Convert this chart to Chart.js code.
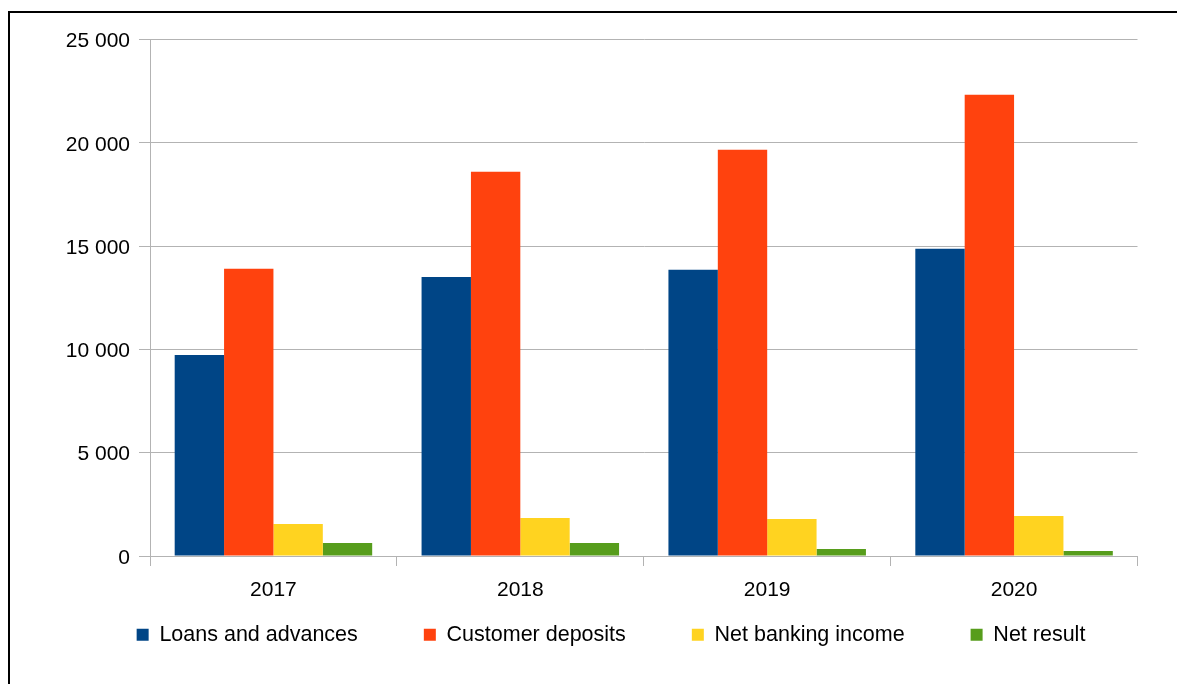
<!DOCTYPE html>
<html>
<head>
<meta charset="utf-8">
<script src="https://cdn.jsdelivr.net/npm/chart.js@4/dist/chart.umd.min.js"></script>
<style>
  html, body { margin: 0; padding: 0; background: #fff; overflow: hidden; }
  #frame {
    position: absolute; left: 8px; top: 11px; width: 2000px; height: 2000px;
    border-left: 2px solid #000; border-top: 2px solid #000;
  }
  #wrap { position: absolute; left: 0; top: 0; width: 1177px; height: 684px; }
</style>
</head>
<body>
<div id="frame"></div>
<div id="wrap"><canvas id="c" width="1177" height="684"></canvas></div>
<script>
// Yearly figures
const years = ['2017', '2018', '2019', '2020'];
const loansAndAdvances = [9730, 13510, 13850, 14870];
const customerDeposits = [13900, 18600, 19660, 22320];
const netBankingIncome = [1550, 1840, 1790, 1940];
const netResult = [630, 630, 340, 240];
const yTickValues = [0, 5000, 10000, 15000, 20000, 25000];

const GRID = '#b3b3b3';
const FONT = 'Arial, "Liberation Sans", sans-serif';

function spaced(v) {
  return String(v).replace(/\B(?=(\d{3})+(?!\d))/g, ' ');
}

// Legend sits right under the plot, one wide row centred a little left of the page centre
const legendPlacement = {
  id: 'legendPlacement',
  afterLayout(chart) {
    const lg = chart.legend;
    if (!lg) return;
    lg.left = 45;
    lg.right = chart.width;
    lg.top = chart.chartArea.bottom + 2;
    lg.bottom = chart.height;
    lg.width = lg.right - lg.left;
    lg.height = lg.bottom - lg.top;
  }
};

new Chart(document.getElementById('c'), {
  type: 'bar',
  data: {
    labels: years,
    datasets: [
      { label: 'Loans and advances', data: loansAndAdvances, backgroundColor: '#004586' },
      { label: 'Customer deposits', data: customerDeposits, backgroundColor: '#ff420e' },
      { label: 'Net banking income', data: netBankingIncome, backgroundColor: '#ffd320' },
      { label: 'Net result', data: netResult, backgroundColor: '#579d1c' }
    ]
  },
  plugins: [legendPlacement],
  options: {
    responsive: false,
    animation: false,
    devicePixelRatio: 1,
    datasets: { bar: { categoryPercentage: 0.8, barPercentage: 1.0, borderWidth: 0 } },
    layout: { padding: { left: 0, right: 39.5, top: 39.5, bottom: 38 } },
    plugins: {
      tooltip: { enabled: false },
      legend: {
        position: 'bottom',
        maxHeight: 40,
        labels: {
          boxWidth: 12,
          boxHeight: 12,
          padding: 66,
          color: '#000',
          font: { family: FONT, size: 21.5 }
        }
      }
    },
    scales: {
      x: {
        offset: true,
        afterFit: s => { s.height = 50; },
        grid: {
          offset: true,
          drawOnChartArea: true,
          tickLength: 10,
          lineWidth: 1,
          color: ctx => (ctx.index === 0 || ctx.index === years.length) ? GRID : 'rgba(0,0,0,0)',
          tickColor: GRID
        },
        border: { display: true, color: GRID },
        ticks: { color: '#000', padding: 12, font: { family: FONT, size: 21 } }
      },
      y: {
        min: 0,
        max: 25000,
        afterFit: s => { s.width = 150; },
        afterBuildTicks: s => { s.ticks = yTickValues.map(v => ({ value: v })); },
        grid: { color: GRID, tickLength: 11, tickColor: GRID },
        border: { display: true, color: GRID },
        ticks: {
          color: '#000',
          padding: 9,
          labelOffset: 2,
          font: { family: FONT, size: 21 },
          callback: v => spaced(v)
        }
      }
    }
  }
});
</script>
</body>
</html>
